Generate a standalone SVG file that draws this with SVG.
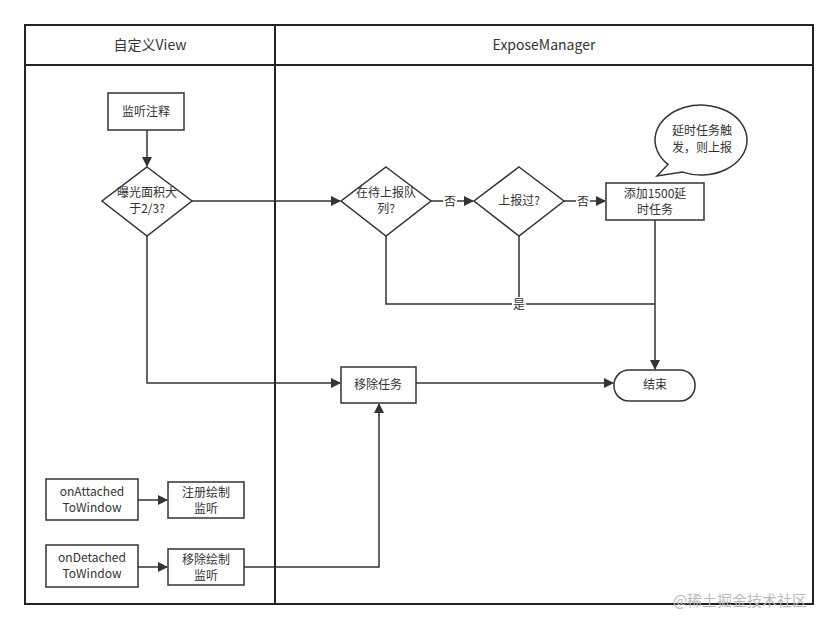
<svg xmlns="http://www.w3.org/2000/svg" width="839" height="629" viewBox="0 0 839 629">
<defs>
<marker id="a" markerWidth="10" markerHeight="10" refX="9" refY="5" orient="auto" markerUnits="userSpaceOnUse"><path d="M0,0 L10,5 L0,10 Z" fill="#333"/></marker>
<style>
text{font-family:"Noto Sans CJK SC","Liberation Sans",sans-serif;font-size:12px;fill:#333;text-anchor:middle}
.n{fill:#fff;stroke:#333;stroke-width:1.5}
.c{fill:none;stroke:#333;stroke-width:1.5}
.ca{fill:none;stroke:#333;stroke-width:1.5;marker-end:url(#a)}
.p{fill:none;stroke:#222;stroke-width:2}
</style>
</defs>
<rect width="839" height="629" fill="#fff"/>
<g id="pool">
<rect class="p" x="25" y="25" width="788" height="579"/>
<line class="p" x1="25" y1="65" x2="813" y2="65"/>
<line class="p" x1="275" y1="25" x2="275" y2="604"/>
<text x="150" y="50" style="font-size:14px">自定义View</text>
<text x="544" y="50" style="font-size:14px">ExposeManager</text>
</g>
<g id="connectors">
<line class="ca" x1="147" y1="130" x2="147" y2="166"/>
<line class="ca" x1="192" y1="201" x2="340" y2="201"/>
<line class="ca" x1="431" y1="201" x2="473" y2="201"/>
<line class="ca" x1="564" y1="201" x2="605" y2="201"/>
<polyline class="ca" points="147,236 147,383 340,383"/>
<line class="ca" x1="416" y1="383" x2="613" y2="383"/>
<polyline class="c" points="386,236 386,304 655,304"/>
<line class="c" x1="519" y1="236" x2="519" y2="304"/>
<line class="ca" x1="655" y1="220" x2="655" y2="369"/>
<line class="ca" x1="138" y1="500" x2="167" y2="500"/>
<line class="ca" x1="138" y1="567" x2="167" y2="567"/>
<polyline class="ca" points="244,567 379,567 379,404"/>
<rect x="443" y="194" width="14" height="14" fill="#fff"/><text x="450" y="206">否</text>
<rect x="576" y="194" width="14" height="14" fill="#fff"/><text x="583" y="206">否</text>
<rect x="512" y="297" width="14" height="14" fill="#fff"/><text x="519" y="309">是</text>
</g>
<g id="n1"><rect class="n" x="108" y="93" width="76" height="37"/><text x="146" y="116">监听注释</text></g>
<g id="n2"><polygon class="n" points="147,167 192,201 147,236 102,201"/><text x="147" y="197">曝光面积大</text><text x="147" y="213">于2/3?</text></g>
<g id="n3"><polygon class="n" points="386,167 431,201 386,236 341,201"/><text x="386" y="197">在待上报队</text><text x="386" y="213">列?</text></g>
<g id="n4"><polygon class="n" points="519,167 564,201 519,236 474,201"/><text x="519" y="205">上报过?</text></g>
<g id="n5"><rect class="n" x="606" y="183" width="98" height="37"/><text x="655" y="198">添加1500延</text><text x="655" y="214">时任务</text></g>
<g id="n6"><path class="n" d="M657,176 L668,164.4 A46,35 0 1 1 682.6,172.1 Z"/><text x="702" y="135">延时任务触</text><text x="702" y="152">发，则上报</text></g>
<g id="n7"><rect class="n" x="341" y="367" width="75" height="36"/><text x="378" y="389">移除任务</text></g>
<g id="n8"><rect class="n" x="614" y="370" width="81" height="31" rx="15"/><text x="655" y="389">结束</text></g>
<g id="n9"><rect class="n" x="46" y="479" width="92" height="41"/><text x="92" y="496">onAttached</text><text x="92" y="512">ToWindow</text></g>
<g id="n10"><rect class="n" x="168" y="482" width="76" height="36"/><text x="206" y="497">注册绘制</text><text x="206" y="513">监听</text></g>
<g id="n11"><rect class="n" x="46" y="545" width="92" height="42"/><text x="92" y="562">onDetached</text><text x="92" y="578">ToWindow</text></g>
<g id="n12"><rect class="n" x="168" y="549" width="76" height="36"/><text x="206" y="564">移除绘制</text><text x="206" y="580">监听</text></g>
<text x="740" y="606" style="font-size:15px;fill:#bbb">@稀土掘金技术社区</text>
</svg>
